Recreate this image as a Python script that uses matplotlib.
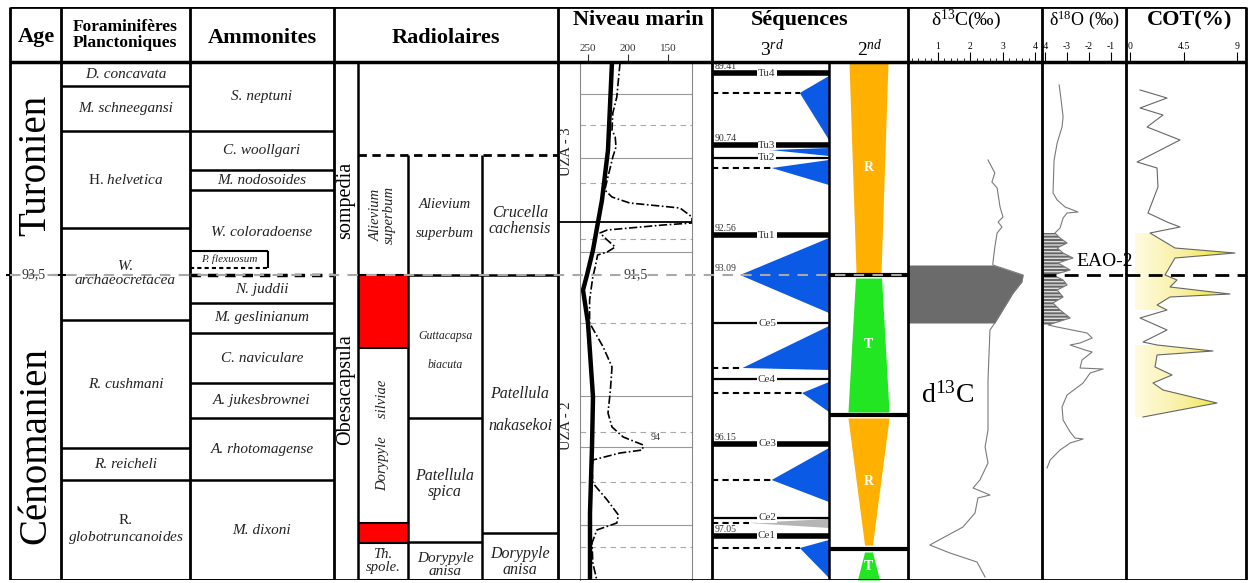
import numpy as np
import matplotlib
matplotlib.use("Agg")
import matplotlib.pyplot as plt
from matplotlib.path import Path
from matplotlib.colors import LinearSegmentedColormap

plt.rcParams['font.family'] = ['Liberation Serif', 'DejaVu Serif']
plt.rcParams['mathtext.fontset'] = 'custom'
plt.rcParams['mathtext.rm'] = 'Liberation Serif'
plt.rcParams['mathtext.it'] = 'Liberation Serif:italic'
plt.rcParams['mathtext.bf'] = 'Liberation Serif:bold'
plt.rcParams['axes.unicode_minus'] = False

W, H = 1248, 583
DMAX = 518          # section depth units, 0 = top, 518 = base

# ---------------- biozones ----------------
foram_bounds = [0, 24, 69, 166, 258, 386, 418, 518]
foram_names = ['D. concavata', 'M. schneegansi', r'H. $\mathit{helvetica}$',
               'W.\narchaeocretacea', 'R. cushmani', 'R. reicheli',
               'R.\n$\\mathit{globotruncanoides}$']

ammo_bounds = [0, 69, 108, 128, 213, 241, 271, 321, 356, 418, 518]
ammo_names = ['S. neptuni', 'C. woollgari', 'M. nodosoides', 'W. coloradoense',
              'N. juddii', 'M. geslinianum', 'C. naviculare', 'A. jukesbrownei',
              'A. rhotomagense', 'M. dixoni']
flexuosum_zone = [189, 206]

# radiolaires, sub-columns B, C, D
radB_bounds = [93, 213, 286, 461, 481, 518]
radB_names = ['Alievium\nsuperbum', '', 'Dorypyle     silviae', '', 'Th.\nspole.']
radB_red = [1, 3]
radC_bounds = [93, 213, 356, 480, 518]
radC_names = ['Alievium\nsuperbum', 'Guttacapsa\nbiacuta', 'Patellula\nspica', 'Dorypyle\nanisa']
radD_bounds = [93, 213, 471, 518]
radD_names = ['Crucella\ncachensis', 'Patellula\nnakasekoi', 'Dorypyle\nanisa']
superzones = ['sompedia', 'Obesacapsula']
superzone_mid = [138, 328]

# ---------------- sea level ----------------
sl_long_d = [0, 88, 138, 188, 213, 228, 261, 335, 385, 451, 518]
sl_long_v = [220, 225, 232.5, 243.75, 251.25, 256.25, 250, 243.75, 245, 247.5, 247.5]
sl_short_d = [1, 35, 51, 68, 75, 85, 95, 105, 118, 128, 135, 141, 146, 155, 161, 163,
              168, 171, 178, 185, 190, 193, 205, 215, 238, 261, 285, 305, 328, 351,
              365, 375, 383, 388, 391, 398, 408, 421, 438, 453, 461, 468, 481, 501, 518]
sl_short_v = [210, 214, 219, 220, 216, 215, 219, 222, 226, 229, 220, 198, 135, 120, 120, 156,
              226, 235, 226, 216, 226, 238, 241, 244, 248, 248, 231, 220, 222, 225,
              220, 206, 181, 182, 210, 244, 245, 244, 226, 212, 214, 239, 245, 244, 239]
sl_grid_solid = [32, 96, 190, 334, 385, 463]
sl_grid_dash = [63, 121, 177, 261, 370, 420, 485]
sl_ticks = [250, 200, 150]
uza_names = ['UZA - 3', 'UZA - 2']
uza_mid = [90, 364]

# ---------------- sequences ----------------
seq_names = ['Tu4', 'Tu3', 'Tu2', 'Tu1', 'Ce5', 'Ce4', 'Ce3', 'Ce2', 'Ce1']
seq_depth = [11, 83, 96, 173, 261, 317, 382, 456, 474]
seq_thick = [True, True, False, True, False, False, True, False, True]
age_marks = ['89.41', '90.74', '92.56', '93.09', '96.15', '97.05']
age_mark_depth = [11, 83, 173, 213, 382, 474]
tri_top = [14, 86, 98, 176, 264, 320, 386, 478]
tri_apex_d = [31, 88, 106, 213, 306, 331, 418, 486]
tri_bot = [78, 94, 123, 251, 308, 350, 440, 516]
tri_apex_x = [0.75, 0.5, 0.51, 0.24, 0.26, 0.77, 0.51, 0.75]
tri_mfs = [True, False, True, False, True, True, True, True]
ce2_wedge = [457, 461, 466, 0.32]
sq2_top = [0, 216, 356, 490]
sq2_bot = [211, 350, 483, 518]
sq2_hw_top = [0.247, 0.165, 0.26, 0.05]
sq2_hw_bot = [0.158, 0.26, 0.05, 0.14]
sq2_kind = ['R', 'T', 'R', 'T']
sq2_limits = [213, 353, 487]

# ---------------- geochemistry ----------------
c13_d = [98, 111, 120, 126, 145, 155, 160, 165, 171, 185, 201, 203, 213, 220, 231, 261,
         268, 318, 368, 385, 401, 418, 426, 433, 436, 451, 465, 483, 491, 500, 515]
c13_v = [2.54, 2.75, 2.66, 2.82, 2.91, 3.0, 2.85, 2.97, 2.82, 2.75, 2.69, 2.69, 3.62, 3.58,
         3.31, 2.75, 2.6, 2.54, 2.54, 2.45, 2.54, 2.29, 2.08, 2.6, 2.23, 2.14, 1.77, 0.75,
         1.37, 2.2, 2.45]
o18_d = [23, 38, 55, 65, 81, 98, 131, 138, 145, 150, 151, 156, 166, 171, 176, 181, 186,
         191, 196, 201, 208, 213, 218, 223, 228, 235, 241, 248, 256, 263, 265, 271, 276,
         281, 283, 288, 290, 298, 306, 307, 311, 321, 333, 345, 358, 370, 376, 377, 381,
         388, 398, 406]
o18_v = [-3.36, -3.27, -3.18, -3.23, -3.45, -3.59, -3.64, -3.45, -3.09, -2.5, -3.0, -3.18,
         -3.32, -3.55, -3.32, -3.0, -3.45, -3.18, -2.73, -3.41, -2.86, -3.64, -3.18, -3.0,
         -3.45, -3.18, -3.64, -3.32, -2.86, -3.86, -3.45, -2.09, -1.86, -2.41, -2.86, -2.18,
         -1.86, -2.32, -2.41, -1.36, -1.95, -2.27, -3.0, -3.23, -3.18, -2.86, -2.64, -2.27,
         -2.86, -3.32, -3.77, -3.91]
cot_d = [28, 36, 46, 53, 65, 78, 100, 106, 125, 151, 160, 165, 171, 186, 191, 196, 213,
         218, 225, 232, 235, 243, 248, 256, 268, 280, 283, 289, 293, 305, 313, 321, 328,
         341, 355]
cot_v = [0.84, 3.11, 0.84, 2.77, 1.43, 4.2, 0.59, 2.27, 2.35, 1.51, 3.11, 4.2, 1.68, 3.78,
         8.82, 3.78, 2.94, 3.95, 3.36, 8.4, 3.36, 2.27, 3.11, 0.84, 3.11, 1.09, 2.27, 6.97,
         2.27, 2.1, 3.53, 1.93, 2.77, 7.31, 1.09]
c13_ticks = [1, 2, 3, 4]
o18_ticks = [-4, -3, -2, -1]
cot_ticks = [0, 4.5, 9]
cot_tick_labels = ['0', '4.5', '9']
limit_age = '93,5'
limit_depth = 213

# ---------------- layout (pixels) ----------------
TOP, HEAD, BOT = 7, 62, 580
cols = [10, 61, 190, 334, 558, 712, 908, 1042, 1126, 1246]
xA, xB, xC, xD = 334, 358, 408, 482

fig = plt.figure(figsize=(W / 100, H / 100), dpi=100)


def rect(x0, y0, x1, y1):
    return [x0 / W, 1 - y1 / H, (x1 - x0) / W, (y1 - y0) / H]


def curve_axes(x0, x1, xlim):
    ax = fig.add_axes(rect(x0, HEAD, x1, BOT))
    ax.set_facecolor('none')
    ax.set_xlim(*xlim)
    ax.set_ylim(DMAX, 0)
    for s in ax.spines.values():
        s.set_visible(False)
    ax.set_yticks([])
    ax.xaxis.tick_top()
    ax.tick_params(axis='x', direction='out', length=7, width=0.8, pad=1, labelsize=7)
    return ax


fr = fig.add_axes(rect(0, TOP, W, BOT))
fr.set_xlim(0, W)
fr.set_ylim(DMAX, -(HEAD - TOP))
fr.axis('off')
fr.set_zorder(10)

# frame
fr.hlines([-(HEAD - TOP), DMAX], cols[0], cols[-1], color='black', lw=2)
fr.hlines(0, cols[0], cols[-1], color='black', lw=2.5)
fr.vlines(cols, -(HEAD - TOP), DMAX, color='black', lw=2)

hb = dict(fontsize=16, fontweight='bold', ha='center', va='center')
fr.text(36, -25, 'Age', **hb)
fr.text(125, -27, 'Foraminifères\nPlanctoniques', fontsize=12.5, fontweight='bold',
        ha='center', va='center', linespacing=1.0)
fr.text(262, -24, 'Ammonites', **hb)
fr.text(446, -24, 'Radiolaires', **hb)
fr.text(638, -42, 'Niveau marin', **hb)
fr.text(800, -42, 'Séquences', **hb)
fr.text(772, -13, '3$^{rd}$', fontsize=14, ha='center', va='center')
fr.text(870, -13, '2$^{nd}$', fontsize=14, ha='center', va='center')
fr.text(966, -42, 'δ$^{13}$C(‰)', fontsize=14, ha='center', va='center')
fr.text(1084, -42, 'δ$^{18}$O (‰)', fontsize=13, ha='center', va='center')
fr.text(1190, -42, 'COT(%)', **hb)

# age column
fr.text(36, 103, 'Turonien', rotation=90, fontsize=28, ha='center', va='center')
fr.text(36, 383, 'Cénomanien', rotation=90, fontsize=28, ha='center', va='center')
fr.text(34, limit_depth, limit_age, fontsize=10, ha='center', va='center', color='#333')
fr.hlines([limit_depth, limit_depth], [6, 53], [14, 66], color='black', lw=1.5)


def zone_column(bounds, names, x0, x1, size=11, italic=True, ls=1.1, rot=0):
    fr.hlines(bounds, x0, x1, color='black', lw=1.8)
    for top, bot, name in zip(bounds[:-1], bounds[1:], names):
        if not name:
            continue
        st = 'normal' if '$' in name else ('italic' if italic else 'normal')
        fr.text((x0 + x1) / 2, (top + bot) / 2, name, fontsize=size, style=st,
                ha='center', va='center', linespacing=ls, rotation=rot, color='#222')


zone_column(foram_bounds, foram_names, cols[1], cols[2])
zone_column(ammo_bounds, ammo_names, cols[2], cols[3])
# dashed Turonian/Cenomanian limit in ammonites + P. flexuosum box
fr.hlines(limit_depth, cols[2], cols[3], color='white', lw=2.5)
fr.hlines(limit_depth, cols[2], cols[3], color='black', lw=2.5, linestyles=(0, (3, 2)))
fr.hlines(flexuosum_zone[0], cols[2], 268, color='black', lw=1.5)
fr.hlines(flexuosum_zone[1], cols[2], 268, color='black', lw=1.5, linestyles=(0, (2, 1.5)))
fr.vlines(268, *flexuosum_zone, color='black', lw=1.5)
fr.text(229, sum(flexuosum_zone) / 2, 'P. flexuosum', fontsize=8, style='italic',
        ha='center', va='center', color='#222')

# radiolaires
fr.vlines(xB, 0, DMAX, color='black', lw=1.8)
fr.vlines([xC, xD], radB_bounds[0], DMAX, color='black', lw=1.8)
for name, mid in zip(superzones, superzone_mid):
    fr.text((xA + xB) / 2, mid, name, rotation=90, fontsize=14.5, ha='center', va='center')
for i in radB_red:
    fr.fill_between([xB, xC], radB_bounds[i], radB_bounds[i + 1], color='#ff0000', lw=0)
fr.hlines(radB_bounds[1:], xB, xC, color='black', lw=1.5)
for top, bot, name in zip(radB_bounds[:-1], radB_bounds[1:], radB_names):
    if name:
        rot = 0 if name.startswith('Th') else 90
        fr.text((xB + xC) / 2, (top + bot) / 2, name, rotation=rot, fontsize=10.5,
                style='italic', ha='center', va='center', linespacing=1.0, color='#222')
fr.hlines(radC_bounds[1:], xC, xD, color='black', lw=1.8)
c_sizes = [10.5, 8.5, 11.5, 11]
c_ls = [2.6, 3.0, 1.0, 1.0]
for top, bot, name, s, l in zip(radC_bounds[:-1], radC_bounds[1:], radC_names, c_sizes, c_ls):
    fr.text((xC + xD) / 2, (top + bot) / 2 + 4, name, fontsize=s, style='italic',
            ha='center', va='center', linespacing=l, color='#222')
fr.hlines(radD_bounds[1:], xD, cols[4], color='black', lw=1.8)
d_ls = [1.0, 2.3, 1.0]
for top, bot, name, l in zip(radD_bounds[:-1], radD_bounds[1:], radD_names, d_ls):
    fr.text((xD + cols[4]) / 2, (top + bot) / 2 + 6, name, fontsize=11.5, style='italic',
            ha='center', va='center', linespacing=l, color='#222')
fr.hlines(radB_bounds[0], xB, cols[4], color='black', lw=2, linestyles=(0, (3, 2)))

# sea-level annotations in frame
for name, mid in zip(uza_names, uza_mid):
    fr.text(567, mid, name, rotation=90, fontsize=10.5, ha='center', va='center', color='#222')
fr.hlines(160, cols[4], 692, color='black', lw=1.3)

# 93.5 limit across the left part
fr.hlines(limit_depth, cols[0], 905, color='#a8a8a8', lw=1.5, linestyles=(0, (5, 4)))

# ---------------- sea level panel ----------------
niv = curve_axes(580, 692, (260, 120))
for side in ('left', 'right'):
    niv.spines[side].set_visible(True)
    niv.spines[side].set_color('#888')
    niv.spines[side].set_linewidth(0.8)
niv.set_xticks(sl_ticks)
niv.tick_params(axis='x', length=6, labelsize=8, pad=0.5, colors='#333')
niv.hlines(sl_grid_solid, 260, 120, color='#999', lw=0.8)
niv.hlines(sl_grid_dash, 260, 120, color='#aaa', lw=0.8, linestyles=(0, (5, 4)))
niv.plot(sl_long_v, sl_long_d, color='black', lw=3.2, solid_capstyle='butt')
niv.plot(sl_short_v, sl_short_d, color='black', lw=1.2, linestyle=(0, (5, 1.5, 1, 1.5)),
         clip_on=False)
niv.text(191, limit_depth, '91,5', fontsize=10, ha='center', va='center', color='#333',
         bbox=dict(facecolor='white', edgecolor='none', pad=1))
niv.text(166, 380, '94', fontsize=7, ha='center', va='bottom', color='#333')

# ---------------- sequences ----------------
s3 = fig.add_axes(rect(712, HEAD, 829, BOT))
s3.set_facecolor('none')
s3.set_xlim(0, 1)
s3.set_ylim(DMAX, 0)
s3.axis('off')
for top, ad, bot, axp, mfs in zip(tri_top, tri_apex_d, tri_bot, tri_apex_x, tri_mfs):
    s3.fill([1, axp, 1], [top, ad, bot], color='#0a5ae6', lw=0)
    if mfs:
        s3.hlines(ad, 0, axp, color='black', lw=1.5, linestyles=(0, (3, 2)))
s3.fill([1, ce2_wedge[3], 1], [ce2_wedge[0], ce2_wedge[1], ce2_wedge[2]], color='#b5b5b5', lw=0)
s3.hlines(ce2_wedge[1], 0, ce2_wedge[3], color='black', lw=1.5, linestyles=(0, (3, 2)))
for name, d, thick in zip(seq_names, seq_depth, seq_thick):
    s3.hlines(d, 0, 1, color='black', lw=4 if thick else 1.6)
    s3.text(0.47, d, name, fontsize=8, ha='center', va='center', color='#333',
            bbox=dict(facecolor='white', edgecolor='none', pad=0.6))
for lab, d in zip(age_marks, age_mark_depth):
    s3.text(0.02, d - 2, lab, fontsize=7, ha='left', va='bottom', color='#333')
fr.vlines(829, 0, DMAX, color='black', lw=1.8)

s2 = fig.add_axes(rect(829, HEAD, 908, BOT))
s2.set_facecolor('none')
s2.set_xlim(0, 1)
s2.set_ylim(DMAX, 0)
s2.axis('off')
for top, bot, hwt, hwb, kind in zip(sq2_top, sq2_bot, sq2_hw_top, sq2_hw_bot, sq2_kind):
    col = '#ffb000' if kind == 'R' else '#22e622'
    s2.fill_betweenx([top, bot], [0.5 - hwt, 0.5 - hwb], [0.5 + hwt, 0.5 + hwb], color=col, lw=0)
    s2.text(0.5, (top + bot) / 2, kind, fontsize=10, fontweight='bold', color='white',
            ha='center', va='center')
s2.hlines(sq2_limits, 0, 1, color='black', lw=3)

# ---------------- d13C ----------------
c13 = curve_axes(908, 1042, (0.08, 4.2))
c13.set_xticks(c13_ticks)
c13.set_xticks(np.arange(0.2, 4.2, 0.2), minor=True)
c13.tick_params(axis='x', which='minor', direction='out', length=3, width=0.6, top=True)
c13_d_arr = np.array(c13_d)
c13.fill_betweenx(c13_d, 0.08, c13_v, where=(c13_d_arr >= 203) & (c13_d_arr <= 261),
                  color='#6b6b6b', lw=0)
c13.plot(c13_v, c13_d, color='#7a7a7a', lw=0.8)
c13.text(1.3, 333, 'd$^{13}$C', fontsize=20, ha='center', va='center')

# ---------------- d18O ----------------
o18 = curve_axes(1042, 1126, (-4.14, -0.32))
o18.set_xticks(o18_ticks)
o18_d_arr = np.array(o18_d)
o18.fill_betweenx(o18_d, -4.14, o18_v, where=(o18_d_arr >= 171) & (o18_d_arr <= 263),
                  facecolor='#666666', edgecolor='#dddddd', hatch='-----', lw=0)
o18.plot(o18_v, o18_d, color='#7a7a7a', lw=0.8)
o18.axhline(limit_depth, color='black', lw=2, dashes=(5, 3))
o18.text(-1.3, 200, 'EAO-2', fontsize=14, ha='center', va='center', zorder=5)

# ---------------- COT ----------------
cot = curve_axes(1126, 1246, (-0.34, 9.75))
cot.set_xticks(cot_ticks, labels=cot_tick_labels)
cot_d_arr = np.array(cot_d)
mask = ((cot_d_arr >= 171) & (cot_d_arr <= 250)) | ((cot_d_arr >= 281) & (cot_d_arr <= 355))
poly = cot.fill_betweenx(cot_d, 0.4, cot_v, where=mask, facecolor='none', lw=0)
clip = Path.make_compound_path(*poly.get_paths())
cmap = LinearSegmentedColormap.from_list('cot', ['#fffbe0', '#f8ef9c', '#ebe000'])
im = cot.imshow(np.linspace(0, 1, 256).reshape(1, -1), extent=[0.4, 9.0, DMAX, 0],
                aspect='auto', cmap=cmap, zorder=1)
im.set_clip_path(clip, transform=cot.transData)
cot.set_xlim(-0.34, 9.75)
cot.set_ylim(DMAX, 0)
cot.plot(cot_v, cot_d, color='#666666', lw=0.8, zorder=2)
cot.axhline(limit_depth, color='black', lw=2, dashes=(5, 3), zorder=3)

fig.savefig('out.png', dpi=100)
